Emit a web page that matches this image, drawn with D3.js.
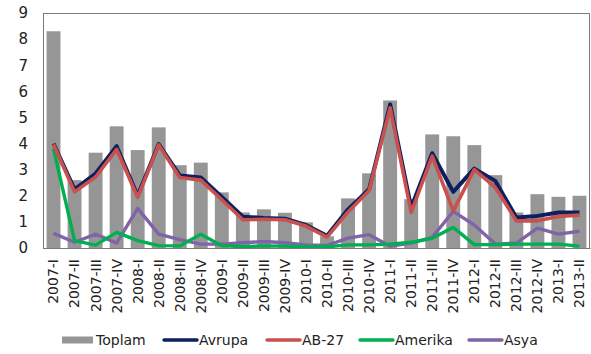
<!DOCTYPE html>
<html>
<head>
<meta charset="utf-8">
<script src="https://cdn.jsdelivr.net/npm/d3@7"></script>
<style>
  body { margin: 0; background: #fff; }
  svg { display: block; }
  text { font-family: "DejaVu Sans", sans-serif; fill: #222; }
</style>
</head>
<body>
<svg id="chart" width="591" height="354"></svg>
<script>
var quarters = ['2007-I','2007-II','2007-III','2007-IV','2008-I','2008-II','2008-III','2008-IV',
  '2009-I','2009-II','2009-III','2009-IV','2010-I','2010-II','2010-III','2010-IV',
  '2011-I','2011-II','2011-III','2011-IV','2012-I','2012-II','2012-III','2012-IV','2013-I','2013-II'];

var toplam  = [8.3, 2.6, 3.65, 4.66, 3.75, 4.62, 3.17, 3.27, 2.13, 1.36, 1.48, 1.35, 0.98, 0.45, 1.9, 2.86,
  5.65, 1.87, 4.35, 4.28, 3.94, 2.79, 1.36, 2.06, 1.96, 2.0];
var avrupa  = [4.0, 2.25, 2.85, 3.9, 2.0, 3.98, 2.78, 2.7, 1.95, 1.2, 1.15, 1.12, 0.88, 0.47, 1.48, 2.25,
  5.5, 1.55, 3.63, 2.15, 3.04, 2.57, 1.17, 1.23, 1.36, 1.36];
var ab27    = [3.97, 2.15, 2.72, 3.78, 1.94, 3.95, 2.7, 2.6, 1.85, 1.08, 1.1, 1.08, 0.84, 0.42, 1.38, 2.2,
  5.37, 1.36, 3.52, 1.42, 3.0, 2.32, 1.04, 1.04, 1.21, 1.26];
var amerika = [3.8, 0.28, 0.11, 0.6, 0.28, 0.09, 0.08, 0.53, 0.09, 0.05, 0.08, 0.07, 0.05, 0.05, 0.12, 0.12,
  0.15, 0.22, 0.37, 0.79, 0.13, 0.13, 0.15, 0.15, 0.15, 0.07];
var asya    = [0.56, 0.22, 0.53, 0.19, 1.52, 0.53, 0.32, 0.15, 0.15, 0.2, 0.25, 0.2, 0.12, 0.1, 0.38, 0.51,
  0.07, 0.19, 0.41, 1.4, 0.88, 0.15, 0.19, 0.76, 0.53, 0.64];
var yTicks = [0,1,2,3,4,5,6,7,8,9];

var pLeft = 43, pRight = 590, pTop = 13, pBottom = 248;
var svg = d3.select('#chart');

var x = d3.scaleBand().domain(quarters).range([pLeft, pRight]).paddingInner(0.34).paddingOuter(0.17);
var y = d3.scaleLinear().domain([0, 9]).range([pBottom, pTop]);

// bars
svg.append('g').selectAll('rect')
  .data(toplam)
  .enter().append('rect')
  .attr('x', function(d, i) { return x(quarters[i]); })
  .attr('width', x.bandwidth())
  .attr('y', function(d) { return y(d); })
  .attr('height', function(d) { return y(0) - y(d); })
  .attr('fill', '#969696');

var cx = function(d, i) { return x(quarters[i]) + x.bandwidth() / 2; };
var line = d3.line().x(cx).y(function(d) { return y(d); });

var series = [
  {name: 'Avrupa', values: avrupa, color: '#0c1f5e', w: 4},
  {name: 'AB-27', values: ab27, color: '#c9504c', w: 3.6},
  {name: 'Amerika', values: amerika, color: '#00b050', w: 3.4},
  {name: 'Asya', values: asya, color: '#8064a8', w: 3.4}
];

// draw order: Asya, Amerika below, then Avrupa, AB-27
[series[3], series[2], series[0], series[1]].forEach(function(s) {
  svg.append('path')
    .datum(s.values)
    .attr('d', line)
    .attr('fill', 'none')
    .attr('stroke', s.color)
    .attr('stroke-width', s.w)
    .attr('stroke-linejoin', 'round');
});

// frame
svg.append('rect')
  .attr('x', pLeft + 0.5).attr('y', pTop + 0.5)
  .attr('width', pRight - pLeft - 1).attr('height', pBottom - pTop)
  .attr('fill', 'none').attr('stroke', '#7a7a7a').attr('stroke-width', 1);

// y axis
var yAxis = svg.append('g')
  .attr('transform', 'translate(' + pLeft + ',0)')
  .call(d3.axisLeft(y).tickValues(yTicks).tickSize(0).tickPadding(15));
yAxis.select('.domain').remove();
yAxis.selectAll('text').style('font-size', '15px').attr('fill', '#222');

// x axis
var xAxis = svg.append('g')
  .attr('transform', 'translate(0,' + pBottom + ')')
  .call(d3.axisBottom(x).tickSize(0));
xAxis.select('.domain').attr('stroke', '#7a7a7a');
xAxis.selectAll('text')
  .style('font-size', '14px')
  .attr('fill', '#222')
  .attr('text-anchor', 'end')
  .attr('transform', 'rotate(-90)')
  .attr('x', -11)
  .attr('y', 0)
  .attr('dy', '0.35em');

// legend
var legend = svg.append('g').attr('transform', 'translate(0,340)');
var legendItems = [
  {name: 'Toplam', color: '#969696', x: 62, bar: true},
  {name: 'Avrupa', color: '#0c1f5e', x: 164},
  {name: 'AB-27', color: '#c9504c', x: 267},
  {name: 'Amerika', color: '#00b050', x: 360},
  {name: 'Asya', color: '#8064a8', x: 469}
];
legendItems.forEach(function(it) {
  if (it.bar) {
    legend.append('rect').attr('x', it.x).attr('y', -3.5).attr('width', 31).attr('height', 7).attr('fill', it.color);
  } else {
    legend.append('line').attr('x1', it.x).attr('x2', it.x + 33).attr('y1', 0).attr('y2', 0)
      .attr('stroke', it.color).attr('stroke-width', 3.4).attr('stroke-linecap', 'round');
  }
  legend.append('text').attr('x', it.x + (it.bar ? 34 : 35)).attr('y', 0).attr('dy', '0.35em')
    .style('font-size', '14px').text(it.name);
});
</script>
</body>
</html>
